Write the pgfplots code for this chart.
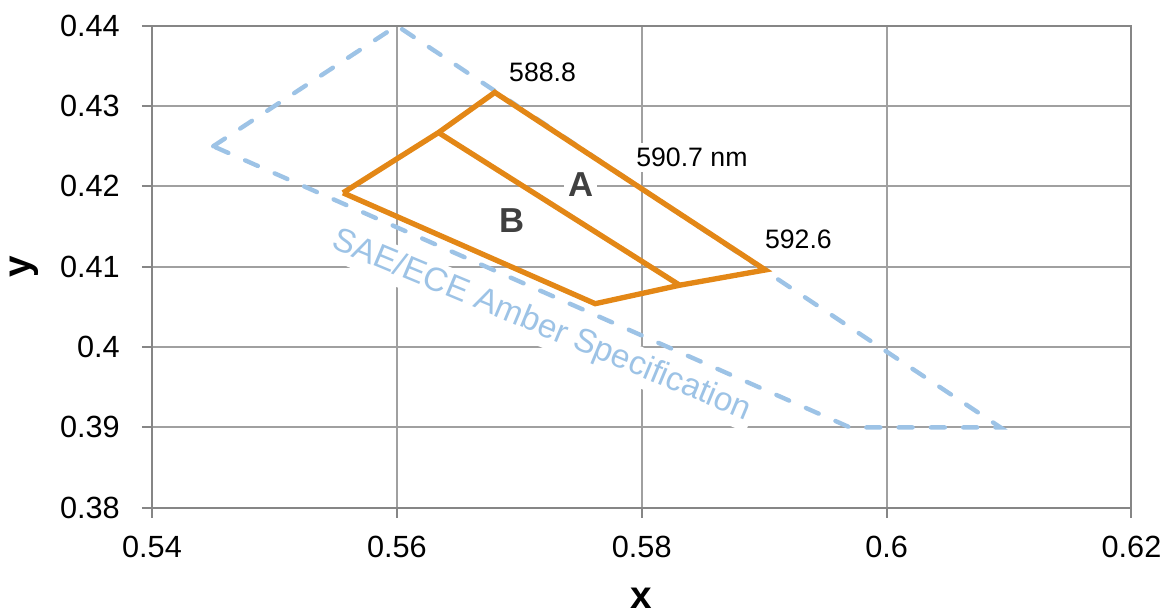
\documentclass[border=0pt]{standalone}
\usepackage{pgfplots}
\pgfplotsset{compat=1.18}
\usepackage{fontspec}
\setmainfont{Liberation Sans}
\definecolor{orng}{RGB}{227,135,22}
\definecolor{sae}{RGB}{157,195,230}
\definecolor{gridc}{RGB}{160,160,160}
\definecolor{axc}{RGB}{134,134,134}
\definecolor{lbl}{RGB}{64,64,64}
\begin{document}
\begin{tikzpicture}
\path[use as bounding box] (-114pt,-79pt) rectangle (760.5pt,380.8pt);
\begin{axis}[
  scale only axis,
  width=734.6pt, height=361.5pt,
  xmin=0.54, xmax=0.62, ymin=0.38, ymax=0.44,
  clip=false,
  xtick={0.54,0.56,0.58,0.6,0.62},
  xticklabels={0.54,0.56,0.58,0.6,0.62},
  ytick={0.38,0.39,0.4,0.41,0.42,0.43,0.44},
  yticklabels={0.38,0.39,0.4,0.41,0.42,0.43,0.44},
  tick pos=left,
  tick align=outside,
  major tick length=7.5pt,
  tick style={axc, line width=1.5pt},
  grid=major,
  major grid style={gridc, line width=1.5pt},
  axis line style={axc, line width=1.5pt},
  tick label style={font=\fontsize{23}{27}\selectfont, inner sep=0pt},
  xticklabel style={anchor=north, yshift=-13.5pt},
  yticklabel style={anchor=east, xshift=-16.5pt},
  xlabel={x}, ylabel={y},
  every axis x label/.style={at={(axis description cs:0.5,-0.1665)}, anchor=north, inner sep=0pt, font=\fontsize{29}{34}\selectfont\bfseries},
  every axis y label/.style={at={(axis description cs:-0.1307,0.5)}, rotate=90, anchor=center, inner sep=0pt, font=\fontsize{29}{34}\selectfont\bfseries},
]
\node[fill=white, inner sep=3pt, text=sae, rotate=-22.6, font=\fontsize{25}{30}\selectfont] at (axis cs:0.5718,0.4026) {SAE/ECE Amber Specification};
\node[fill=white, inner sep=4pt, font=\fontsize{20}{24}\selectfont] at (axis cs:0.5719,0.4342) {588.8};
\node[fill=white, inner sep=4pt, font=\fontsize{20}{24}\selectfont] at (axis cs:0.5841,0.4236) {590.7 nm};
\node[fill=white, inner sep=4pt, font=\fontsize{20}{24}\selectfont] at (axis cs:0.5928,0.4134) {592.6};
\node[fill=white, inner sep=3pt, text=lbl, font=\fontsize{26}{31}\selectfont\bfseries] at (axis cs:0.5750,0.4202) {A};
\node[fill=white, inner sep=3pt, text=lbl, font=\fontsize{26}{31}\selectfont\bfseries] at (axis cs:0.5694,0.4158) {B};
\addplot[sae, line width=3.3pt, dash pattern=on 10.5pt off 13.7pt, line cap=round, mark=none]
  coordinates {(0.545,0.425) (0.56,0.44) (0.6093,0.39) (0.597,0.39) (0.545,0.425)};
\addplot[orng, line width=4pt, line join=miter, mark=none]
  coordinates {(0.5556,0.4192) (0.5634,0.4267) (0.5680,0.4317) (0.5901,0.4096) (0.5831,0.4077) (0.5762,0.4054) (0.5556,0.4192)};
\addplot[orng, line width=4pt, mark=none]
  coordinates {(0.5634,0.4267) (0.5831,0.4077)};
\end{axis}
\end{tikzpicture}
\end{document}
